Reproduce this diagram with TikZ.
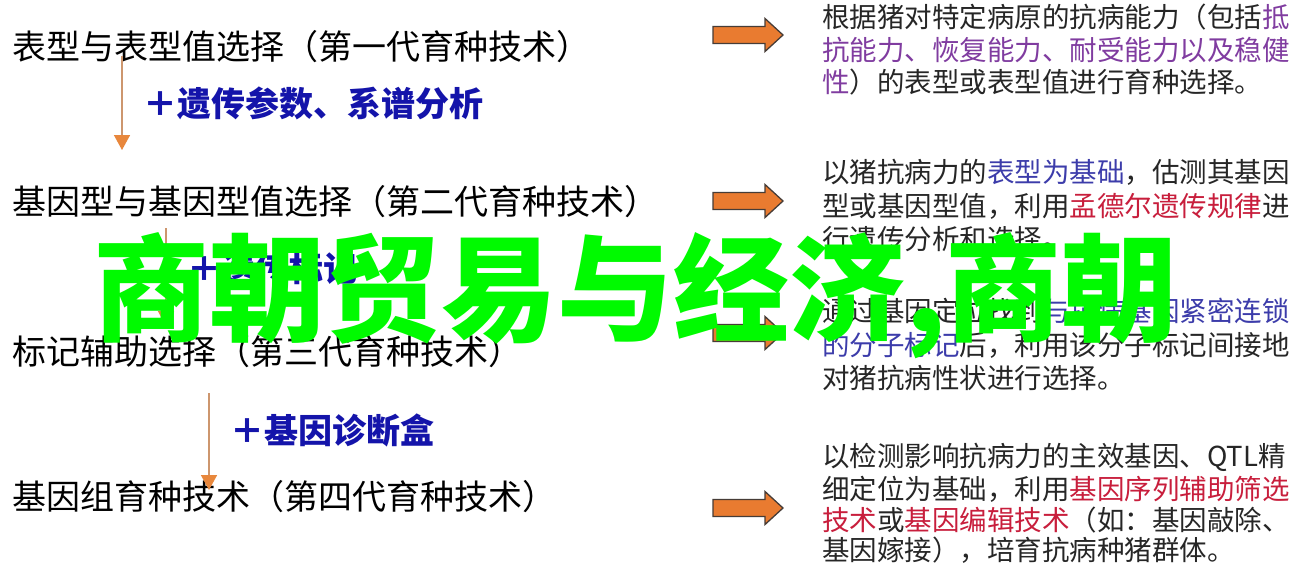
\documentclass[tikz,border=0pt]{standalone}
\usepackage{fontspec}
\setmainfont{Noto Sans CJK SC}
\newfontfamily\cjk{Noto Sans CJK SC}
\usetikzlibrary{arrows.meta}
\definecolor{lblue}{RGB}{20,20,170}
\definecolor{vline}{RGB}{205,150,110}
\definecolor{vhead}{RGB}{232,135,60}
\definecolor{barrowfill}{RGB}{233,123,48}
\definecolor{barrowline}{RGB}{70,60,55}
\definecolor{tpurple}{RGB}{128,60,160}
\definecolor{tblue}{RGB}{60,60,170}
\definecolor{tred}{RGB}{200,30,60}
\definecolor{biggreen}{RGB}{0,250,0}
\tikzset{
  x=1pt, y=-1pt,
  lefttext/.style={anchor=west, inner sep=0pt, text=black, font=\cjk\fontsize{34}{34}\selectfont},
  bluelabel/.style={anchor=west, inner sep=0pt, text=lblue, font=\cjk\bfseries\fontsize{34}{34}\selectfont},
  righttext/.style={anchor=west, inner sep=0pt, text=black!85, font=\cjk\fontsize{27.5}{27.5}\selectfont},
  varrow/.style={draw=vline, line width=1.6pt, -{Triangle[length=15pt,width=16pt,color=vhead]}},
  barrow/.pic={\filldraw[fill=barrowfill, draw=barrowline, line width=1.3pt, line join=miter]
     (0,-8.5) -- (52,-8.5) -- (52,-16.5) -- (70,0) -- (52,16.5) -- (52,8.5) -- (0,8.5) -- cycle;},
  greentext/.style={inner sep=0pt, text=biggreen, font=\cjk\bfseries\fontsize{116}{116}\selectfont}
}
\begin{document}
\begin{tikzpicture}
\useasboundingbox[fill=white] (0,0) rectangle (1297,565);
% left column
\node[lefttext] (g1) at (12,47) {表型与表型值选择（第一代育种技术）};
\node[lefttext] (g2) at (12,202) {基因型与基因型值选择（第二代育种技术）};
\node[lefttext] (g3) at (12,352) {标记辅助选择（第三代育种技术）};
\node[lefttext] (g4) at (12,497) {基因组育种技术（第四代育种技术）};
% vertical arrows
\coordinate (v1s) at (122,56); \coordinate (v1e) at (122,150);
\coordinate (v2s) at (166,228); \coordinate (v2e) at (166,326);
\coordinate (v3s) at (209,393); \coordinate (v3e) at (209,490);
\draw[varrow] (v1s) -- (v1e);
\draw[varrow] (v2s) -- (v2e);
\draw[varrow] (v3s) -- (v3e);
% blue labels
\node[bluelabel] (l1) at (143,103) {＋遗传参数、系谱分析};
\node[bluelabel] (l2) at (187,269) {＋遗传标记};
\node[bluelabel] (l3) at (230,430) {＋基因诊断盒};
% block arrows
\pic at (713,35) {barrow};
\pic at (713,201) {barrow};
\pic at (713,333) {barrow};
\pic at (713,508) {barrow};
% right block 1
\node[righttext] (r1a) at (822,17) {根据猪对特定病原的抗病能力（包括\textcolor{tpurple}{抵}};
\node[righttext] (r1b) at (822,50) {\textcolor{tpurple}{抗能力、恢复能力、耐受能力以及稳健}};
\node[righttext] (r1c) at (822,82) {\textcolor{tpurple}{性}）的表型或表型值进行育种选择。};
% right block 2
\node[righttext] (r2a) at (822,172) {以猪抗病力的\textcolor{tblue}{表型为基础}，估测其基因};
\node[righttext] (r2b) at (822,206) {型或基因型值，利用\textcolor{tred}{孟德尔遗传规律}进};
\node[righttext] (r2c) at (822,239) {行遗传分析和选择。};
% right block 3
\node[righttext] (r3a) at (822,311) {通过基因定位找到\textcolor{tblue}{与抗病基因紧密连锁}};
\node[righttext] (r3b) at (822,345) {\textcolor{tblue}{的分子标记}后，利用该分子标记间接地};
\node[righttext] (r3c) at (822,378) {对猪抗病性状进行选择。};
% right block 4
\node[righttext] (r4a) at (822,457) {以检测影响抗病力的主效基因、QTL精};
\node[righttext] (r4b) at (822,489) {细定位为基础，利用\textcolor{tred}{基因序列辅助筛选}};
\node[righttext] (r4c) at (822,520) {\textcolor{tred}{技术}或\textcolor{tred}{基因编辑技术}（如：基因敲除、};
\node[righttext] (r4d) at (822,550) {基因嫁接），培育抗病种猪群体。};
% big green overlay
\node[greentext, anchor=west] (big) at (93,296) {商朝贸易与经济,商朝};
\end{tikzpicture}
\end{document}
